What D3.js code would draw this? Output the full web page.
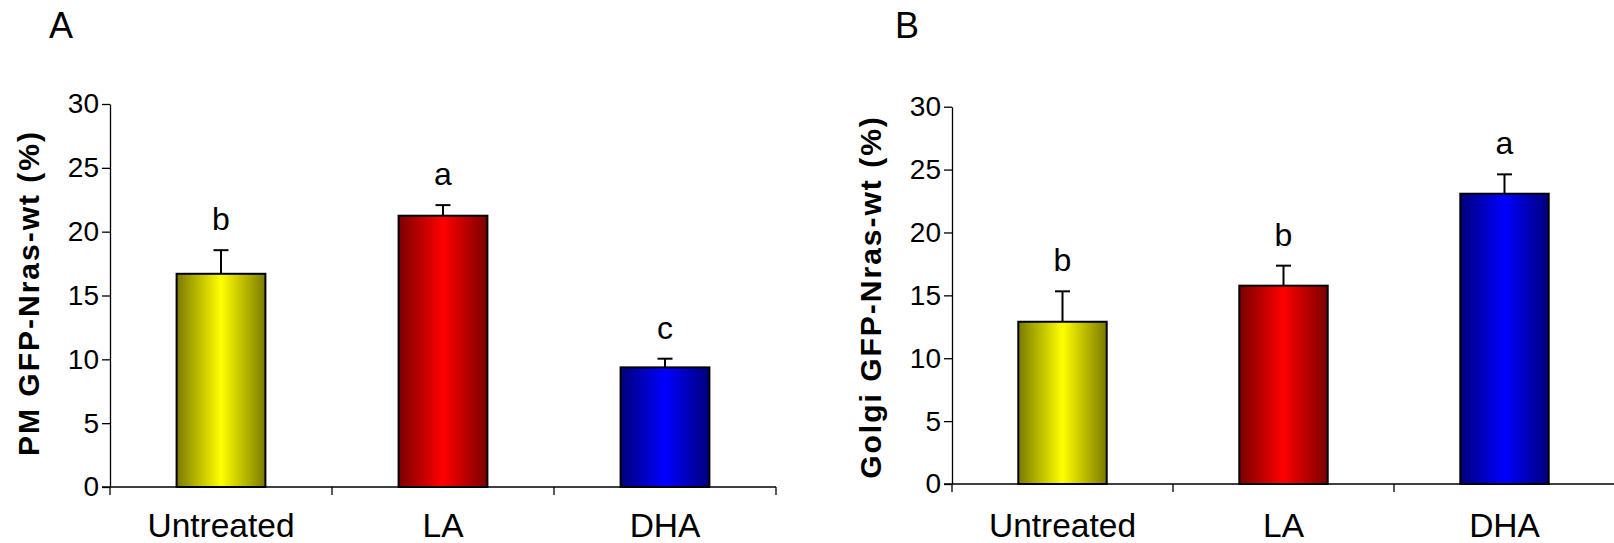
<!DOCTYPE html>
<html>
<head>
<meta charset="utf-8">
<script src="https://cdn.jsdelivr.net/npm/d3@7"></script>
<style>
  body { margin: 0; background: #fff; }
  text { font-family: "Liberation Sans", Arial, sans-serif; fill: #000; }
</style>
</head>
<body>
<script>
// данные графика
categories = ['Untreated', 'LA', 'DHA'];
pmMeans = [16.7, 21.25, 9.37];
pmErrors = [1.85, 0.83, 0.68];
pmLetters = ['b', 'a', 'c'];
golgiMeans = [12.9, 15.77, 23.08];
golgiErrors = [2.42, 1.59, 1.54];
golgiLetters = ['b', 'b', 'a'];
yTicks = [0, 5, 10, 15, 20, 25, 30];
barColors = [['#7a7a00', '#ffff00'], ['#7a0000', '#ff0000'], ['#00007a', '#0000ff']];

width = 1614;
height = 543;

svg = d3.select('body').append('svg')
   .attr('width', width)
   .attr('height', height);

// градиенты для столбцов
defs = svg.append('defs');
barColors.forEach((c, i) => {
   g = defs.append('linearGradient').attr('id', 'grad-' + i)
      .attr('x1', '0%').attr('x2', '100%').attr('y1', '0%').attr('y2', '0%');
   g.append('stop').attr('offset', '0%').attr('stop-color', c[0]);
   g.append('stop').attr('offset', '50%').attr('stop-color', c[1]);
   g.append('stop').attr('offset', '100%').attr('stop-color', c[0]);
});

// функция отрисовки одной панели
function panel(p) {
   x = d3.scaleBand()
      .domain(categories)
      .range([p.x0, p.x1])
      .paddingInner(0.6)
      .paddingOuter(0.3);
   y = d3.scaleLinear()
      .domain([0, 30])
      .range([p.yBottom, p.yTop]);
   step = x.step();
   g = svg.append('g');

   // ось Y
   yAxis = g.append('g')
      .attr('transform', 'translate(' + p.x0 + ', 0)')
      .call(d3.axisLeft(y).tickValues(yTicks).tickSize(8).tickPadding(3).tickSizeOuter(0));
   yAxis.select('.domain').attr('stroke', '#000').attr('stroke-width', 1.3);
   yAxis.selectAll('.tick line').attr('stroke', '#000').attr('stroke-width', 1.3);
   yAxis.selectAll('.tick text')
      .attr('font-family', '"Liberation Sans", Arial, sans-serif')
      .attr('font-size', 28)
      .attr('fill', '#000');

   // столбцы
   g.selectAll('rect.bar')
      .data(p.means)
   .enter().append('rect')
      .attr('class', 'bar')
      .attr('x', (d, i) => x(categories[i]))
      .attr('y', (d) => y(d))
      .attr('width', x.bandwidth())
      .attr('height', (d) => y(0) - y(d))
      .attr('fill', (d, i) => 'url(#grad-' + i + ')')
      .attr('stroke', '#000')
      .attr('stroke-width', 2);

   // планки погрешностей
   g.selectAll('line.err')
      .data(p.means)
   .enter().append('line')
      .attr('class', 'err')
      .attr('x1', (d, i) => x(categories[i]) + x.bandwidth() / 2)
      .attr('x2', (d, i) => x(categories[i]) + x.bandwidth() / 2)
      .attr('y1', (d) => y(d))
      .attr('y2', (d, i) => y(d + p.errors[i]))
      .attr('stroke', '#000')
      .attr('stroke-width', 2);
   g.selectAll('line.cap')
      .data(p.means)
   .enter().append('line')
      .attr('class', 'cap')
      .attr('x1', (d, i) => x(categories[i]) + x.bandwidth() / 2 - 7.5)
      .attr('x2', (d, i) => x(categories[i]) + x.bandwidth() / 2 + 7.5)
      .attr('y1', (d, i) => y(d + p.errors[i]))
      .attr('y2', (d, i) => y(d + p.errors[i]))
      .attr('stroke', '#000')
      .attr('stroke-width', 2);

   // буквы значимости
   g.selectAll('text.sig')
      .data(p.letters)
   .enter().append('text')
      .attr('class', 'sig')
      .attr('x', (d, i) => x(categories[i]) + x.bandwidth() / 2)
      .attr('y', (d, i) => y(p.means[i] + p.errors[i]) - 20)
      .attr('text-anchor', 'middle')
      .attr('font-size', 32)
      .text((d) => d);

   // ось X
   g.append('line')
      .attr('x1', p.x0 - 8).attr('x2', p.x1)
      .attr('y1', y(0)).attr('y2', y(0))
      .attr('stroke', '#000').attr('stroke-width', 1.5);
   bounds = [0, 1, 2, 3];
   g.selectAll('line.xtick')
      .data(bounds)
   .enter().append('line')
      .attr('class', 'xtick')
      .attr('x1', (d) => p.x0 + d * step)
      .attr('x2', (d) => p.x0 + d * step)
      .attr('y1', y(0))
      .attr('y2', y(0) + 8)
      .attr('stroke', '#000').attr('stroke-width', 1.3);
   g.selectAll('text.cat')
      .data(categories)
   .enter().append('text')
      .attr('class', 'cat')
      .attr('x', (d) => x(d) + x.bandwidth() / 2)
      .attr('y', 537)
      .attr('text-anchor', 'middle')
      .attr('font-size', 33.5)
      .text((d) => d);

   // подпись оси Y
   g.append('text')
      .attr('transform', 'translate(' + p.titleX + ', ' + p.titleY + ') rotate(-90)')
      .attr('text-anchor', 'middle')
      .attr('font-size', 30)
      .attr('font-weight', 'bold')
      .attr('letter-spacing', 2)
      .text(p.title);

   // буква панели
   g.append('text')
      .attr('x', p.labelX)
      .attr('y', 38)
      .attr('font-size', 36)
      .text(p.label);
}

panel({
   x0: 110, x1: 776, yBottom: 487, yTop: 104,
   means: pmMeans, errors: pmErrors, letters: pmLetters,
   title: 'PM GFP-Nras-wt (%)', titleX: 39, titleY: 293,
   label: 'A', labelX: 49
});
panel({
   x0: 952, x1: 1615, yBottom: 484, yTop: 106.7,
   means: golgiMeans, errors: golgiErrors, letters: golgiLetters,
   title: 'Golgi GFP-Nras-wt (%)', titleX: 881, titleY: 297,
   label: 'B', labelX: 895
});
</script>
</body>
</html>
